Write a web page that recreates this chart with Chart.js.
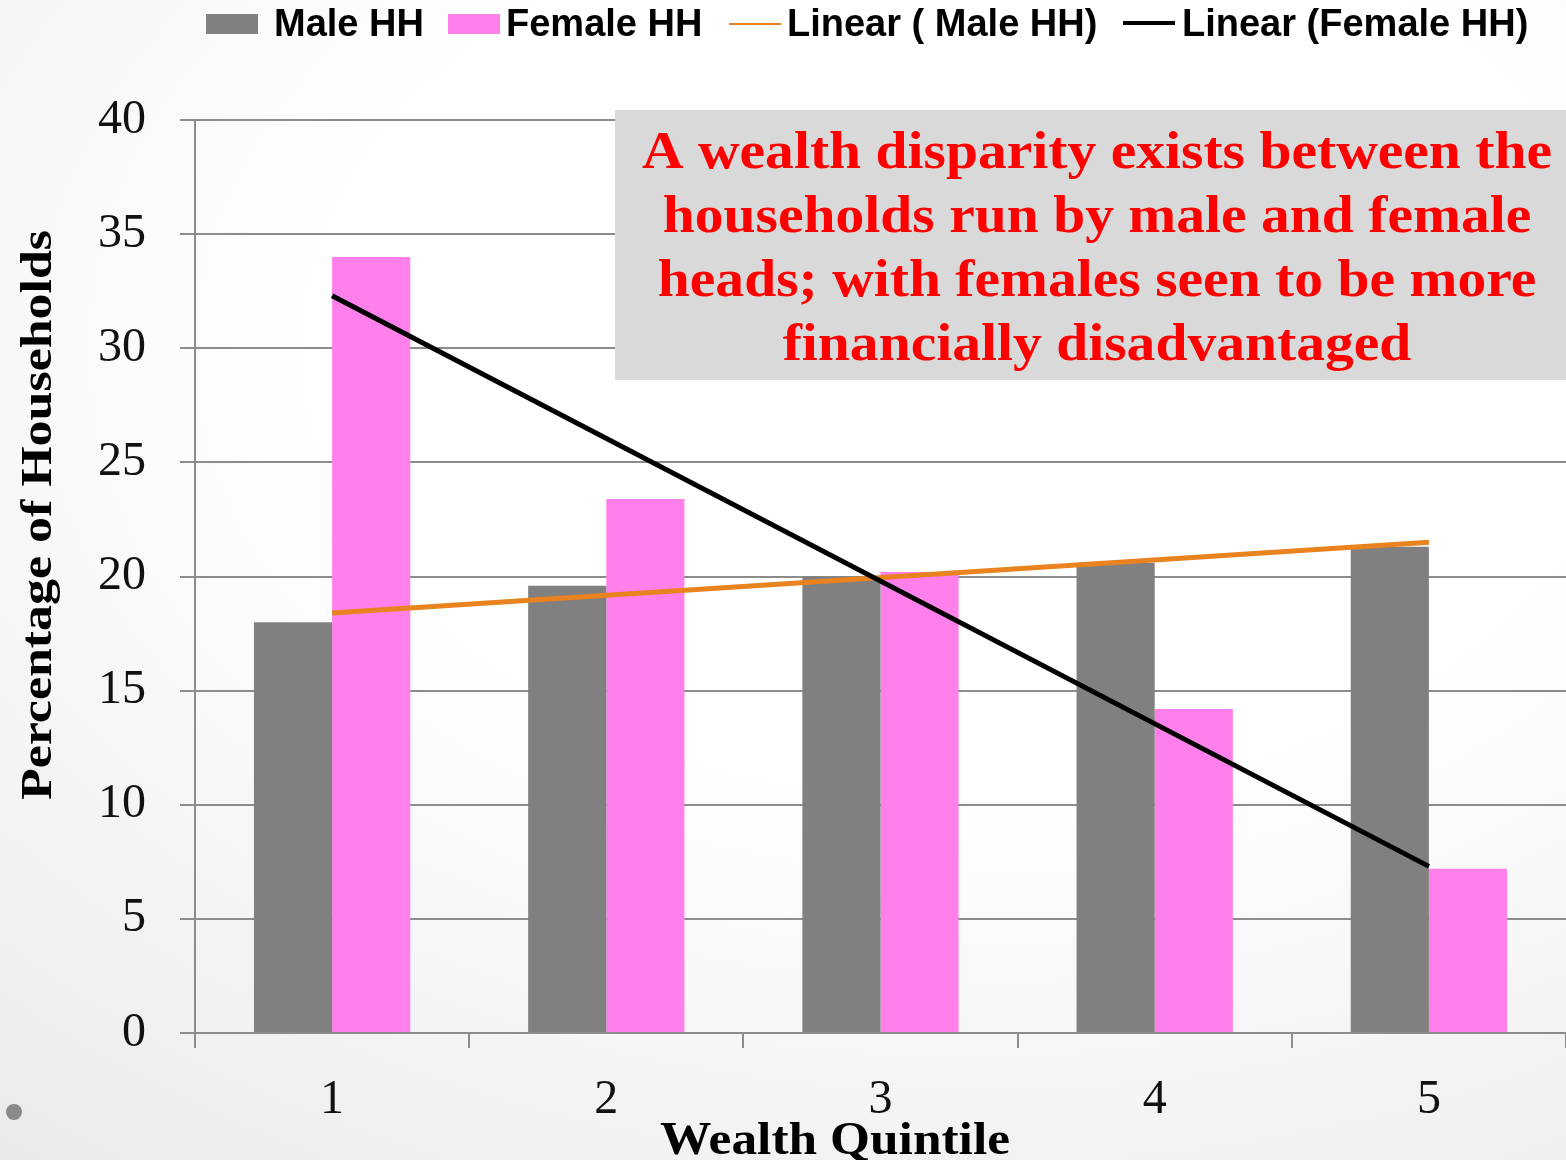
<!DOCTYPE html>
<html>
<head>
<meta charset="utf-8">
<script src="https://cdn.jsdelivr.net/npm/chart.js@4"></script>
<style>
  html, body { margin: 0; padding: 0; }
  body {
    width: 1566px; height: 1160px; overflow: hidden; position: relative;
    background: radial-gradient(ellipse 120% 110% at 62% 30%, #ffffff 35%, #f4f4f4 60%, #e2e2e2 100%);
    font-family: "Liberation Sans", Arial, sans-serif;
  }
  #wrap { position: absolute; left: 0; top: 0; width: 1566px; height: 1160px; }
  .lg { position: absolute; top: 0px; line-height: 46px; font-size: 38px; font-weight: bold; color: #000; white-space: nowrap; transform-origin: 0 50%; }
  .sw { position: absolute; }
  #dot { position: absolute; left: 6px; top: 1104px; width: 16px; height: 16px; border-radius: 50%; background: #8a8a8a; }
</style>
</head>
<body>
<div id="wrap"><canvas id="chart" width="1566" height="1160"></canvas></div>

<!-- legend -->
<div class="sw" style="left:206px;top:14px;width:52px;height:20px;background:#808080"></div>
<span class="lg" style="left:274px">Male HH</span>
<div class="sw" style="left:448px;top:14px;width:52px;height:20px;background:#ff80ea"></div>
<span class="lg" style="left:506px">Female HH</span>
<div class="sw" style="left:729px;top:23px;width:52px;height:2px;background:#e8831f"></div>
<span class="lg" style="left:787px">Linear ( Male HH)</span>
<div class="sw" style="left:1123px;top:21px;width:52px;height:4px;background:#000"></div>
<span class="lg" style="left:1182px">Linear (Female HH)</span>
<div id="dot"></div>

<script>
const categories = ['1', '2', '3', '4', '5'];
const maleHH = [18.0, 19.6, 20.0, 20.6, 21.3];
const femaleHH = [34.0, 23.4, 20.2, 14.2, 7.2];
// trend lines at quintile 1 and 5
const maleTrend = [18.4, null, null, null, 21.5];
const femaleTrend = [32.3, null, null, null, 7.3];
const noteLines = [
  'A wealth disparity exists between the',
  'households run by male and female',
  'heads; with females seen to be more',
  'financially disadvantaged'
];

const serif = "'Palatino Linotype','Book Antiqua',Palatino,'Liberation Serif',serif";

// grey note box + axis titles
const slideText = {
  id: 'slideText',
  afterDatasetsDraw(chart) {
    const ctx = chart.ctx;
    ctx.save();
    ctx.fillStyle = '#d9d9d9';
    ctx.fillRect(615, 110, 951, 270);
    ctx.fillStyle = '#ff0000';
    ctx.font = 'bold 53px ' + serif;
    ctx.textAlign = 'center';
    ctx.textBaseline = 'alphabetic';
    const sx = 910 / ctx.measureText(noteLines[0]).width;
    const baselines = [168, 232, 296, 360];
    noteLines.forEach((line, i) => {
      ctx.save();
      ctx.translate(1097, baselines[i]);
      ctx.scale(sx, 1);
      ctx.fillText(line, 0, 0);
      ctx.restore();
    });
    ctx.restore();
  },
  afterDraw(chart) {
    const ctx = chart.ctx;
    ctx.save();
    ctx.fillStyle = '#000';
    ctx.textAlign = 'center';
    ctx.textBaseline = 'alphabetic';

    // y title
    ctx.font = 'bold 44px ' + serif;
    let sx = 570 / ctx.measureText('Percentage of Households').width;
    ctx.save();
    ctx.translate(51, 515);
    ctx.rotate(-Math.PI / 2);
    ctx.scale(sx, 1);
    ctx.fillText('Percentage of Households', 0, 0);
    ctx.restore();

    // x title
    ctx.font = 'bold 47px ' + serif;
    sx = 350 / ctx.measureText('Wealth Quintile').width;
    ctx.save();
    ctx.translate(835, 1154);
    ctx.scale(sx, 1);
    ctx.fillText('Wealth Quintile', 0, 0);
    ctx.restore();
    ctx.restore();
  }
};

const ctx = document.getElementById('chart');
new Chart(ctx, {
  type: 'bar',
  data: {
    labels: categories,
    datasets: [
      {
        label: 'Male HH',
        data: maleHH,
        backgroundColor: '#808080',
        order: 2
      },
      {
        label: 'Female HH',
        data: femaleHH,
        backgroundColor: '#ff80ea',
        order: 2
      },
      {
        type: 'line',
        label: 'Linear ( Male HH)',
        data: maleTrend,
        borderColor: '#e8831f',
        borderWidth: 5,
        pointRadius: 0,
        spanGaps: true,
        tension: 0,
        order: 1
      },
      {
        type: 'line',
        label: 'Linear (Female HH)',
        data: femaleTrend,
        borderColor: '#000000',
        borderWidth: 5,
        pointRadius: 0,
        spanGaps: true,
        tension: 0,
        order: 0
      }
    ]
  },
  options: {
    responsive: false,
    animation: false,
    layout: {
      padding: { top: 120, right: 0, left: 0, bottom: 0 }
    },
    datasets: {
      bar: { barPercentage: 1.0, categoryPercentage: 0.57 }
    },
    plugins: {
      legend: { display: false },
      tooltip: { enabled: false }
    },
    scales: {
      x: {
        grid: {
          drawOnChartArea: false,
          offset: true,
          tickLength: 15,
          color: '#8c8c8c',
          lineWidth: 2
        },
        border: { display: false },
        ticks: {
          color: '#111',
          padding: 24,
          font: { family: serif, size: 48 }
        },
        afterFit(scale) { scale.height = 127; }
      },
      y: {
        min: 0,
        max: 40,
        ticks: {
          stepSize: 5,
          color: '#111',
          padding: 34,
          font: { family: serif, size: 48 }
        },
        grid: {
          color: '#8c8c8c',
          lineWidth: 2,
          tickLength: 15
        },
        border: { color: '#8c8c8c', width: 2 },
        afterFit(scale) { scale.width = 195; }
      }
    }
  },
  plugins: [slideText]
});
</script>
</body>
</html>
